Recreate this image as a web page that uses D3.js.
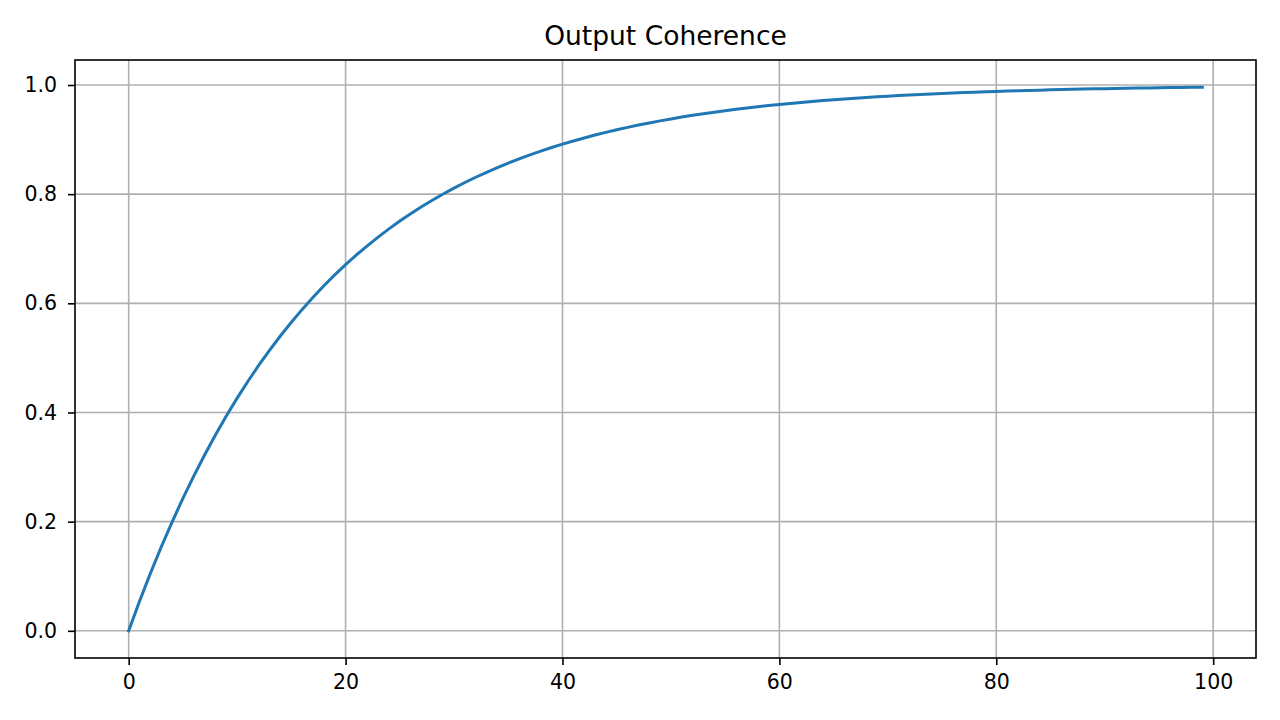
<!DOCTYPE html>
<html>
<head>
<meta charset="utf-8">
<script src="https://cdn.jsdelivr.net/npm/d3@7"></script>
<style>
  body { margin: 0; background: #fff; }
  svg { display: block; font-family: "DejaVu Sans", sans-serif; }
</style>
</head>
<body>
<div id="chart"></div>
<script>
// values, one per sample (x = 0..99)
var steps = d3.range(0, 100);
var coherence = [
  0.0000, 0.0540, 0.1052, 0.1535, 0.1993, 0.2425, 0.2835, 0.3222, 0.3588, 0.3935,
  0.4263, 0.4573, 0.4866, 0.5143, 0.5406, 0.5654, 0.5889, 0.6111, 0.6321, 0.6520,
  0.6708, 0.6886, 0.7054, 0.7213, 0.7364, 0.7507, 0.7641, 0.7769, 0.7889, 0.8003,
  0.8111, 0.8213, 0.8310, 0.8401, 0.8488, 0.8569, 0.8647, 0.8720, 0.8789, 0.8854,
  0.8916, 0.8975, 0.9030, 0.9083, 0.9132, 0.9179, 0.9224, 0.9266, 0.9305, 0.9343,
  0.9378, 0.9412, 0.9444, 0.9474, 0.9502, 0.9529, 0.9555, 0.9579, 0.9601, 0.9623,
  0.9643, 0.9663, 0.9681, 0.9698, 0.9714, 0.9730, 0.9744, 0.9758, 0.9771, 0.9784,
  0.9795, 0.9806, 0.9817, 0.9827, 0.9836, 0.9845, 0.9853, 0.9861, 0.9869, 0.9876,
  0.9883, 0.9889, 0.9895, 0.9901, 0.9906, 0.9911, 0.9916, 0.9920, 0.9925, 0.9929,
  0.9933, 0.9936, 0.9940, 0.9943, 0.9946, 0.9949, 0.9952, 0.9954, 0.9957, 0.9959
];
var xTicks = [0, 20, 40, 60, 80, 100];
var yTicks = [0.0, 0.2, 0.4, 0.6, 0.8, 1.0];
var title = "Output Coherence";

var W = 1280, H = 720;
var margin = { top: 60, right: 24, bottom: 62, left: 75 };
var width = W - margin.left - margin.right,
    height = H - margin.top - margin.bottom;

var svg = d3.select("#chart").append("svg")
    .attr("width", W)
    .attr("height", H);

var g = svg.append("g")
    .attr("transform", "translate(" + margin.left + "," + margin.top + ")");

// matplotlib style 5% padding around the data
var x = d3.scaleLinear().domain([-4.95, 103.95]).range([0, width]);
var y = d3.scaleLinear().domain([-0.0498, 1.0458]).range([height, 0]);

// grid
g.append("g").selectAll("line").data(xTicks).enter().append("line")
    .attr("x1", function (d) { return x(d); })
    .attr("x2", function (d) { return x(d); })
    .attr("y1", 0).attr("y2", height)
    .attr("stroke", "#b0b0b0").attr("stroke-width", 1.6);
g.append("g").selectAll("line").data(yTicks).enter().append("line")
    .attr("y1", function (d) { return y(d); })
    .attr("y2", function (d) { return y(d); })
    .attr("x1", 0).attr("x2", width)
    .attr("stroke", "#b0b0b0").attr("stroke-width", 1.6);

// axes
var xAxis = d3.axisBottom(x).tickValues(xTicks).tickSize(7).tickPadding(9)
    .tickFormat(d3.format("d"));
var yAxis = d3.axisLeft(y).tickValues(yTicks).tickSize(7).tickPadding(11)
    .tickFormat(d3.format(".1f"));

var gx = g.append("g").attr("transform", "translate(0," + height + ")").call(xAxis);
var gy = g.append("g").call(yAxis);
[gx, gy].forEach(function (a) {
  a.select(".domain").remove();
  a.selectAll(".tick line").attr("stroke", "#000").attr("stroke-width", 1.6);
  a.selectAll(".tick text").attr("fill", "#000")
      .style("font-size", "20.5px").style("font-family", "DejaVu Sans, sans-serif");
});

// the line
var line = d3.line()
    .x(function (d, i) { return x(steps[i]); })
    .y(function (d) { return y(d); });

g.append("path")
    .datum(coherence)
    .attr("fill", "none")
    .attr("stroke", "#1f77b4")
    .attr("stroke-width", 3)
    .attr("stroke-linecap", "square")
    .attr("d", line);

// frame
g.append("rect")
    .attr("width", width).attr("height", height)
    .attr("fill", "none").attr("stroke", "#000").attr("stroke-width", 1.6);

svg.append("text")
    .attr("x", margin.left + width / 2)
    .attr("y", 45)
    .attr("text-anchor", "middle")
    .style("font-size", "26.5px")
    .text(title);
</script>
</body>
</html>
